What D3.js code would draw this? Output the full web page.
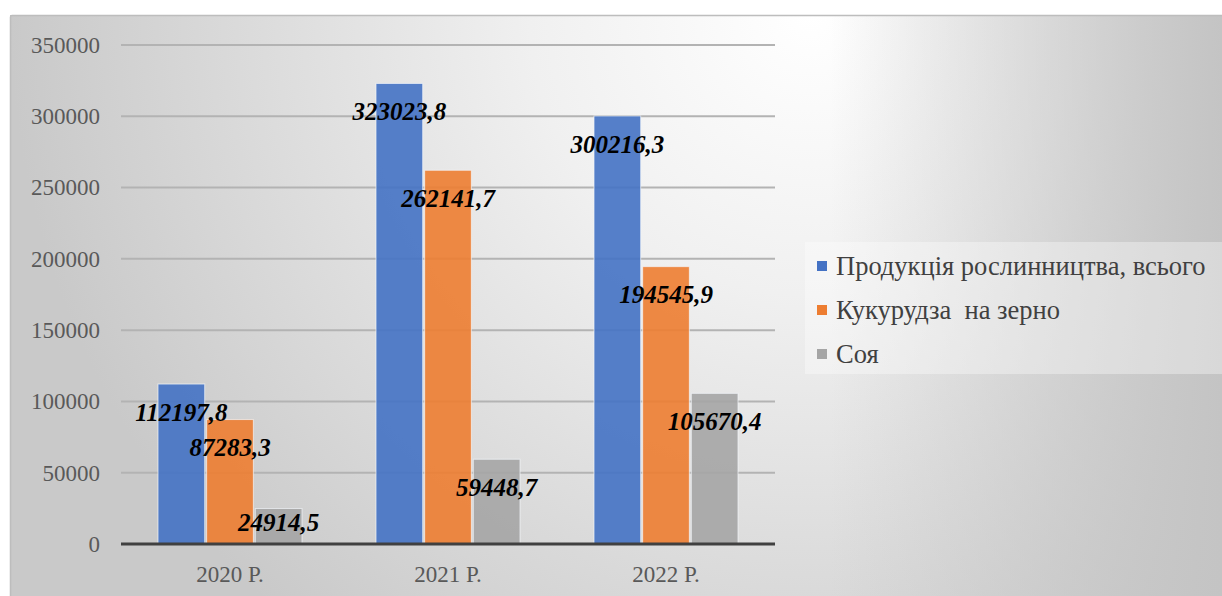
<!DOCTYPE html>
<html>
<head>
<meta charset="utf-8">
<script src="https://cdn.jsdelivr.net/npm/d3@7"></script>
<style>
  html, body { margin: 0; padding: 0; background: #ffffff; }
  svg { display: block; }
  svg text { font-family: "Liberation Serif", "Times New Roman", Tinos, "DejaVu Serif", "Noto Serif", serif; }
</style>
</head>
<body>
<svg id="chart" width="1222" height="596"></svg>
<script>
// Years on the category axis
const years = ["2020 Р.", "2021 Р.", "2022 Р."];
// Series names, in legend order
const seriesNames = ["Продукція рослинництва, всього", "Кукурудза  на зерно", "Соя"];
// Values per series, one per year
const cropTotal = [112197.8, 323023.8, 300216.3];
const cornGrain = [87283.3, 262141.7, 194545.9];
const soybean = [24914.5, 59448.7, 105670.4];
// Value axis ticks
const yTicks = [0, 50000, 100000, 150000, 200000, 250000, 300000, 350000];

const seriesValues = [cropTotal, cornGrain, soybean];
const colors = ["#4472C4", "#ED7D31", "#A5A5A5"];

const W = 1222, H = 596;
const plot = { left: 121, right: 775, top: 45, bottom: 544 };

const svg = d3.select("#chart");
const defs = svg.append("defs");

// Panel background: soft light centre fading to grey edges
const rg = defs.append("radialGradient")
  .attr("id", "bgRadial")
  .attr("gradientUnits", "userSpaceOnUse")
  .attr("cx", 810).attr("cy", 15).attr("r", 800)
  .attr("fx", 810).attr("fy", 15);
rg.append("stop").attr("offset", "0").attr("stop-color", "#ffffff");
rg.append("stop").attr("offset", "0.35").attr("stop-color", "#f0f0f0");
rg.append("stop").attr("offset", "1").attr("stop-color", "#c9c9c9");

const rightShade = defs.append("linearGradient")
  .attr("id", "bgRight")
  .attr("gradientUnits", "userSpaceOnUse")
  .attr("x1", 830).attr("y1", 0).attr("x2", 1222).attr("y2", 0);
rightShade.append("stop").attr("offset", "0").attr("stop-color", "#c4c4c4").attr("stop-opacity", 0);
rightShade.append("stop").attr("offset", "1").attr("stop-color", "#c4c4c4").attr("stop-opacity", 1);

svg.append("rect").attr("x", 10).attr("y", 15).attr("width", W - 10).attr("height", H - 15)
  .attr("fill", "url(#bgRadial)");
svg.append("rect").attr("x", 10).attr("y", 15).attr("width", W - 10).attr("height", H - 15)
  .attr("fill", "url(#bgRight)");
// panel edge
svg.append("path")
  .attr("d", `M10.5,${H} L10.5,17 Q10.5,15.5 12,15.5 L${W},15.5`)
  .attr("fill", "none").attr("stroke", "#bdbdbd").attr("stroke-width", 1.5);

// Scales
const x0 = d3.scaleBand().domain(years).range([plot.left, plot.right]).padding(0);
const x1 = d3.scaleBand().domain(d3.range(seriesNames.length))
  .range([37, x0.bandwidth() - 37]).paddingInner(0.04);
const y = d3.scaleLinear().domain([0, 350000]).range([plot.bottom, plot.top]);

// Gridlines
svg.append("g")
  .selectAll("line")
  .data(yTicks.filter(t => t > 0))
  .join("line")
  .attr("x1", plot.left).attr("x2", plot.right)
  .attr("y1", d => y(d)).attr("y2", d => y(d))
  .attr("stroke", "#b3b3b3").attr("stroke-width", 2);

// Y tick labels
const yAxis = d3.axisLeft(y).tickValues(yTicks).tickSize(0).tickPadding(0).tickFormat(d3.format("d"));
const yg = svg.append("g").attr("transform", `translate(100,0)`).call(yAxis)
  .attr("font-family", null);
yg.select(".domain").remove();
yg.selectAll("text")
  .attr("font-size", 23).attr("fill", "#595959");

// Bars
const groups = svg.append("g").selectAll("g")
  .data(years)
  .join("g")
  .attr("transform", d => `translate(${x0(d)},0)`);

groups.selectAll("rect")
  .data((d, i) => seriesValues.map((s, k) => ({ k, v: s[i] })))
  .join("rect")
  .attr("x", d => x1(d.k))
  .attr("width", x1.bandwidth())
  .attr("y", d => y(d.v))
  .attr("height", d => y(0) - y(d.v))
  .attr("fill", d => colors[d.k])
  .attr("fill-opacity", 0.9)
  .attr("stroke", "#f4f6fb").attr("stroke-opacity", 0.7).attr("stroke-width", 1);

// X axis line
svg.append("line")
  .attr("x1", plot.left).attr("x2", plot.right)
  .attr("y1", y(0)).attr("y2", y(0))
  .attr("stroke", "#404040").attr("stroke-width", 3);

// X labels
const xAxis = d3.axisBottom(x0).tickSize(0).tickPadding(0);
const xg = svg.append("g").attr("transform", `translate(0,${y(0) + 22})`).call(xAxis)
  .attr("font-family", null);
xg.select(".domain").remove();
xg.selectAll("text")
  .attr("font-size", 23).attr("fill", "#595959");

// Value labels
const fmt = v => v.toFixed(1).replace(".", ",");
groups.selectAll("text.val")
  .data((d, i) => seriesValues.map((s, k) => ({ k, v: s[i] })))
  .join("text")
  .attr("class", "val")
  .attr("x", d => x1(d.k) + x1.bandwidth() / 2)
  .attr("y", d => Math.min(y(d.v) + 28, y(0) - 22))
  .attr("dy", "0.35em")
  .attr("text-anchor", "middle")
  .attr("font-size", 25).attr("font-weight", "bold").attr("font-style", "italic")
  .attr("fill", "#000000")
  .text(d => fmt(d.v));

// Legend
const legend = svg.append("g");
legend.append("rect")
  .attr("x", 805).attr("y", 242).attr("width", W - 805).attr("height", 132)
  .attr("fill", "#ffffff").attr("fill-opacity", 0.35);
const rows = legend.selectAll("g.row")
  .data(seriesNames)
  .join("g")
  .attr("class", "row")
  .attr("transform", (d, i) => `translate(0,${266 + i * 44})`);
rows.append("rect")
  .attr("x", 817).attr("y", -5).attr("width", 10).attr("height", 10)
  .attr("fill", (d, i) => colors[i]);
rows.append("text")
  .attr("x", 836).attr("dy", "0.35em")
  .attr("font-size", 26.5).attr("fill", "#404040")
  .style("white-space", "pre")
  .text(d => d);
</script>
</body>
</html>
